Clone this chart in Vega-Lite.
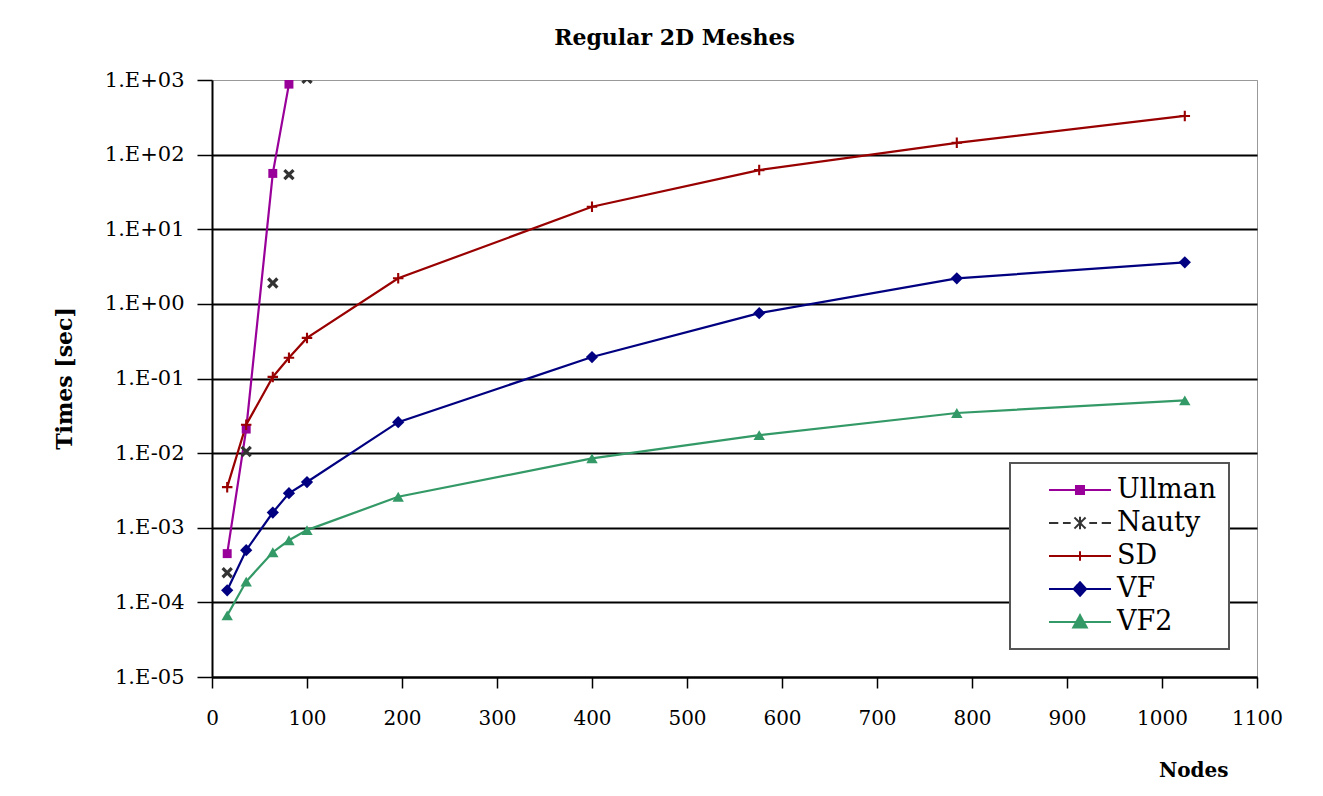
{
  "$schema": "https://vega.github.io/schema/vega-lite/v6.json",
  "width": 1045,
  "height": 597,
  "autosize": "none",
  "padding": {"left": 212, "top": 80, "right": 66, "bottom": 119},
  "background": "white",
  "config": {"view": {"stroke": "#999999", "strokeWidth": 1}, "font": "DejaVu Serif"},
  "title": {"text": "Regular 2D Meshes", "font": "DejaVu Serif", "fontSize": 22, "fontWeight": "bold", "color": "black", "anchor": "middle", "dx": -60, "baseline": "bottom", "offset": -3},
  "data": {"values": [
    {"series": "Ullman", "nodes": 16, "time": 0.00045},
    {"series": "Ullman", "nodes": 36, "time": 0.021},
    {"series": "Ullman", "nodes": 64, "time": 56},
    {"series": "Ullman", "nodes": 81, "time": 880},
    {"series": "Nauty", "nodes": 16, "time": 0.00025},
    {"series": "Nauty", "nodes": 36, "time": 0.0105},
    {"series": "Nauty", "nodes": 64, "time": 1.9},
    {"series": "Nauty", "nodes": 81, "time": 54},
    {"series": "Nauty", "nodes": 100, "time": 1050},
    {"series": "SD", "nodes": 16, "time": 0.0035},
    {"series": "SD", "nodes": 36, "time": 0.024},
    {"series": "SD", "nodes": 64, "time": 0.105},
    {"series": "SD", "nodes": 81, "time": 0.19},
    {"series": "SD", "nodes": 100, "time": 0.35},
    {"series": "SD", "nodes": 196, "time": 2.2},
    {"series": "SD", "nodes": 400, "time": 20},
    {"series": "SD", "nodes": 576, "time": 62},
    {"series": "SD", "nodes": 784, "time": 144},
    {"series": "SD", "nodes": 1024, "time": 330},
    {"series": "VF", "nodes": 16, "time": 0.000145},
    {"series": "VF", "nodes": 36, "time": 0.0005},
    {"series": "VF", "nodes": 64, "time": 0.0016},
    {"series": "VF", "nodes": 81, "time": 0.0029},
    {"series": "VF", "nodes": 100, "time": 0.0041},
    {"series": "VF", "nodes": 196, "time": 0.026},
    {"series": "VF", "nodes": 400, "time": 0.194},
    {"series": "VF", "nodes": 576, "time": 0.75},
    {"series": "VF", "nodes": 784, "time": 2.2},
    {"series": "VF", "nodes": 1024, "time": 3.6},
    {"series": "VF2", "nodes": 16, "time": 0.000067},
    {"series": "VF2", "nodes": 36, "time": 0.00019},
    {"series": "VF2", "nodes": 64, "time": 0.00047},
    {"series": "VF2", "nodes": 81, "time": 0.00068},
    {"series": "VF2", "nodes": 100, "time": 0.00093},
    {"series": "VF2", "nodes": 196, "time": 0.0026},
    {"series": "VF2", "nodes": 400, "time": 0.0085},
    {"series": "VF2", "nodes": 576, "time": 0.0174},
    {"series": "VF2", "nodes": 784, "time": 0.0345},
    {"series": "VF2", "nodes": 1024, "time": 0.051}
  ]},
  "encoding": {
    "x": {
      "field": "nodes", "type": "quantitative",
      "scale": {"domain": [0, 1100], "nice": false, "zero": false},
      "axis": {
        "title": "Nodes", "values": [0, 100, 200, 300, 400, 500, 600, 700, 800, 900, 1000, 1100], "format": "d",
        "grid": false, "domainColor": "black", "domainWidth": 2,
        "tickColor": "black", "tickWidth": 1.5, "tickSize": 11,
        "labelFont": "DejaVu Serif", "labelFontSize": 20, "labelColor": "black", "labelPadding": 20, "labelFlush": false,
        "titleFont": "DejaVu Serif", "titleFontSize": 20, "titleFontWeight": "bold", "titleColor": "black",
        "titleX": 1016, "titleY": 93, "titleAlign": "right", "titleBaseline": "middle"
      }
    },
    "y": {
      "field": "time", "type": "quantitative",
      "scale": {"type": "log", "domain": [0.00001, 1000], "nice": false},
      "axis": {
        "title": "Times [sec]",
        "values": [0.00001, 0.0001, 0.001, 0.01, 0.1, 1, 10, 100, 1000],
        "labelExpr": "'1.E' + (datum.value >= 0.999 ? '+' : '-') + '0' + abs(round(log(datum.value) / LN10))",
        "grid": true,
        "gridColor": {"condition": {"test": "datum.value >= 999", "value": "#999999"}, "value": "black"},
        "gridWidth": {"condition": {"test": "datum.value >= 999", "value": 1}, "value": 2},
        "domainColor": "black", "domainWidth": 2,
        "tickColor": "black", "tickWidth": 1.5, "tickSize": 15,
        "labelFont": "DejaVu Serif", "labelFontSize": 21, "labelColor": "black", "labelPadding": 13,
        "titleFont": "DejaVu Serif", "titleFontSize": 22, "titleFontWeight": "bold", "titleColor": "black",
        "titleX": -148, "titleY": 298, "titleBaseline": "middle"
      }
    }
  },
  "layer": [
    {
      "transform": [{"filter": "datum.series !== 'Nauty'"}],
      "mark": {"type": "line", "strokeWidth": 2.2, "clip": true},
      "encoding": {
        "color": {
          "field": "series", "type": "nominal",
          "scale": {"domain": ["Ullman", "Nauty", "SD", "VF", "VF2"], "range": ["#990099", "#333333", "#990000", "#000080", "#339966"]},
          "legend": {
            "title": null, "orient": "bottom-right", "offset": 28, "padding": 12,
            "strokeColor": "#555555", "fillColor": "white",
            "labelFont": "DejaVu Serif", "labelFontSize": 27, "labelColor": "black",
            "symbolSize": 3844, "symbolOffset": 26, "labelOffset": 5, "rowPadding": 3, "clipHeight": 30,
            "encode": {
              "symbols": {"update": {
                "shape": {"signal": "datum.value === 'Ullman' ? 'M-1,0H1M-0.13,-0.13H0.13V0.13H-0.13Z' : datum.value === 'Nauty' ? 'M-1,0H-0.7M-0.55,0H-0.3M0.3,0H0.55M0.7,0H1M-0.18,-0.18L0.18,0.18M-0.18,0.18L0.18,-0.18M0,-0.2V0.2' : datum.value === 'SD' ? 'M-1,0H1M0,-0.15V0.15' : datum.value === 'VF' ? 'M-1,0H1M0,-0.22L0.2,0L0,0.22L-0.2,0Z' : 'M-1,0H1M0,-0.22L0.22,0.18H-0.22Z'"},
                "fill": {"scale": "color", "field": "value"},
                "stroke": {"scale": "color", "field": "value"},
                "strokeWidth": {"value": 2},
                "strokeDash": {"value": [1, 0]},
                "opacity": {"value": 1}
              }},
              "legend": {"update": {"strokeWidth": {"value": 2}}}
            }
          }
        }
      }
    },
    {
      "transform": [{"filter": "datum.series === 'Ullman'"}],
      "mark": {"type": "point", "shape": "square", "filled": true, "size": 80, "opacity": 1, "color": "#990099", "clip": true}
    },
    {
      "transform": [{"filter": "datum.series === 'Nauty'"}],
      "mark": {"type": "point", "shape": "M-1,-0.6L-0.6,-1L0,-0.4L0.6,-1L1,-0.6L0.4,0L1,0.6L0.6,1L0,0.4L-0.6,1L-1,0.6L-0.4,0Z", "filled": true, "size": 130, "opacity": 1, "color": "#333333", "clip": true}
    },
    {
      "transform": [{"filter": "datum.series === 'SD'"}],
      "mark": {"type": "point", "shape": "M-1,-0.2H-0.2V-1H0.2V-0.2H1V0.2H0.2V1H-0.2V0.2H-1Z", "filled": true, "size": 110, "opacity": 1, "color": "#990000", "clip": true}
    },
    {
      "transform": [{"filter": "datum.series === 'VF'"}],
      "mark": {"type": "point", "shape": "diamond", "filled": true, "size": 150, "opacity": 1, "color": "#000080", "clip": true}
    },
    {
      "transform": [{"filter": "datum.series === 'VF2'"}],
      "mark": {"type": "point", "shape": "triangle-up", "filled": true, "size": 130, "opacity": 1, "color": "#339966", "clip": true}
    }
  ]
}
